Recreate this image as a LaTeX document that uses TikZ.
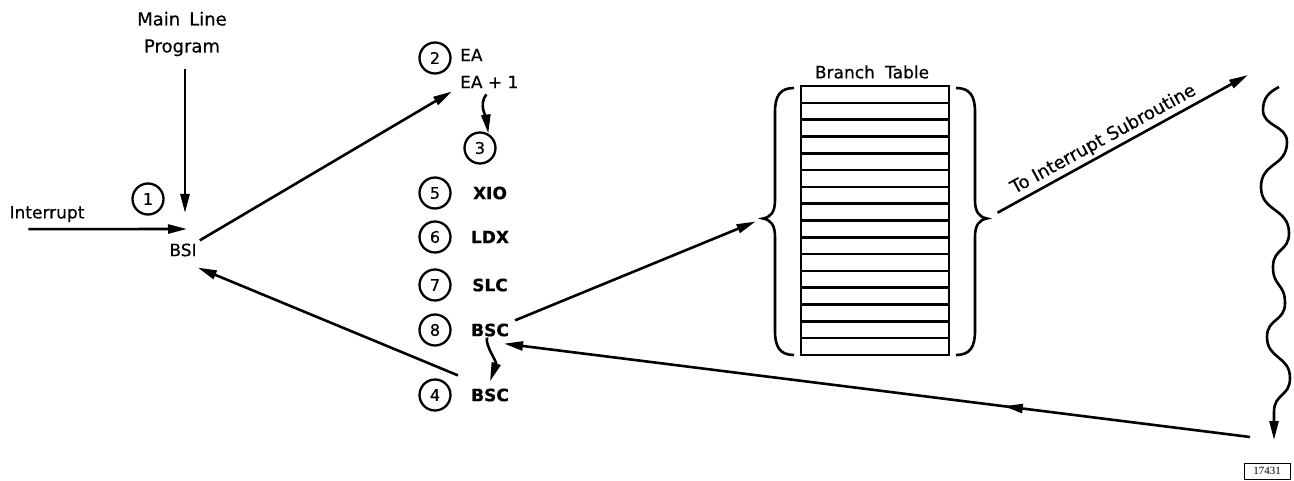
\documentclass[tikz,border=0pt]{standalone}
\usepackage{fontspec}
\setmainfont{DejaVu Sans}[FakeBold=0.5]
\newfontfamily\tagfont{Liberation Serif}
\usetikzlibrary{arrows.meta,decorations.markings}

\tikzset{
  flow/.style={line width=2.6pt, -{Triangle[length=19pt,width=9pt]}},
  plain/.style={line width=2.6pt},
  num/.style={circle, draw, line width=2.3pt, minimum size=31pt, inner sep=0pt, font=\fontsize{16}{16}\selectfont},
  lbl/.style={font=\fontsize{17}{27}\selectfont, inner sep=3pt},
  opname/.style={font=\fontsize{17}{17}\bfseries, inner sep=3pt}
}

\begin{document}
\begin{tikzpicture}[x=1pt, y=-1pt]
    \useasboundingbox (0,0) rectangle (1294,481);
    \node[lbl, align=center, font=\fontsize{18}{27}\selectfont] (mainline) at (182,34) {Main\hspace{0.5em}Line\\Program};
    \node[lbl] (interrupt) at (47,214) {Interrupt};
    \node[num] (c1) at (148,199) {1};
    \node[lbl] (bsi) at (183,250) {BSI};
    \coordinate (jtop) at (185,213);
    \coordinate (jin) at (187,229);
    \draw[flow] (mainline.south -| jtop) ++(0,10) -- (jtop);
    \draw[flow] (interrupt.south west) ++(22,4) -- (jin);

    \node[num] (c2) at (435,58) {2};
    \node[lbl, anchor=west] (ea) at (457,55) {EA};
    \node[lbl, anchor=west] (ea1) at (457,82) {EA + 1};
    \node[num] (c3) at (480,148) {3};
    \draw[flow] (bsi.north east) -- ([xshift=-5pt]ea1.south west);
    \draw[flow] ([xshift=-3pt,yshift=-3pt]ea1.south) .. controls +(-8,10) and +(-2,-15) .. (c3.60);

    \foreach \n/\op/\y in {5/XIO/193,6/LDX/237,7/SLC/285,8/BSC/330,4/BSC/395} {
      \node[num] (c\n) at (435,\y) {\n};
      \node[opname] (op\n) at (490,\y) {\op};
    }
    \draw[flow] ([xshift=-3pt,yshift=2pt]op8.south) .. controls +(-2,8) and +(7,-20) .. ([yshift=4pt]op4.north);
    \draw[flow] ([xshift=-10pt,yshift=10pt]op4.north west) -- ([xshift=-2pt,yshift=-8pt]bsi.south east);

    \node[lbl] (tabletitle) at (872,72) {Branch\hspace{0.6em}Table};
    \node[draw, plain, minimum width=148pt, minimum height=269pt, inner sep=0pt] (table) at (875,220.5) {};
    \foreach \k in {1,...,15}
      \draw[plain] (801,{86+\k*16.8125}) -- (949,{86+\k*16.8125});
    \foreach \s in {-1,1}
      \draw[plain] ({875+\s*81},88) .. controls ({875+\s*95},88) and ({875+\s*100},96) .. ({875+\s*100},112)
        -- ({875+\s*100},200) .. controls ({875+\s*100},212) and ({875+\s*104},217) .. ({875+\s*112},218.5)
        .. controls ({875+\s*104},220) and ({875+\s*100},225) .. ({875+\s*100},237)
        -- ({875+\s*100},331) .. controls ({875+\s*100},347) and ({875+\s*95},355) .. ({875+\s*81},355);
    \coordinate (lcusp) at (763,218.5);
    \coordinate (rcusp) at (987,218.5);
    \draw[flow, shorten >=8pt] ([xshift=3pt]op8.north east) -- (lcusp);

    \coordinate (subr) at (1248,75);
    \draw[flow, shorten <=12pt] (rcusp) -- (subr)
      node[lbl, pos=0.47, sloped, above, font=\fontsize{18}{18}\selectfont] (subrtext) {To Interrupt Subroutine};

    \coordinate (wtop) at (1279,87);
    \coordinate (wbot) at (1274,440);
    \draw[flow] (wtop) .. controls +(-10,5) and +(0,-12) .. (1263,110)
      .. controls +(0,17) and +(0,-17) .. (1287,142)
      .. controls +(0,25) and +(0,-25) .. (1261,187)
      .. controls +(0,25) and +(0,-25) .. (1289,233)
      .. controls +(0,19) and +(0,-19) .. (1273,267)
      .. controls +(0,20) and +(0,-20) .. (1285,303)
      .. controls +(0,19) and +(0,-19) .. (1267,337)
      .. controls +(0,22) and +(0,-22) .. (1290,378)
      .. controls +(0,19) and +(0,-19) .. (1274,412) -- (wbot);

    \coordinate (ret) at (1250,437);
    \draw[flow, postaction={decorate},
      decoration={markings, mark=at position 0.33 with {\arrow{Triangle[length=19pt,width=9pt]}}}]
      (ret) -- ([xshift=-8pt,yshift=-4pt]op8.south east);

    \node[draw, line width=0.8pt, minimum width=46pt, minimum height=16pt, inner sep=1pt,
      font=\tagfont\fontsize{11}{11}\selectfont] (tag) at (1267,471) {17431};
  \end{tikzpicture}
\end{document}
